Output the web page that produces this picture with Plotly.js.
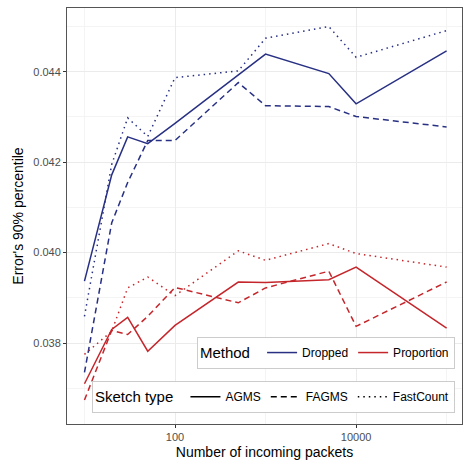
<!DOCTYPE html>
<html><head><script src="https://cdn.plot.ly/plotly-3.0.1.min.js"></script>
<style>body{margin:0}#c{width:472px;height:472px}</style></head>
<body><div id="c"></div><script>
const packets=[10,20,30,50,100,500,1000,5000,10000,100000];
const dropAGMS=[0.03937,0.04172,0.04256,0.04241,0.04286,0.04393,0.04439,0.04396,0.04329,0.04446];
const dropFAGMS=[0.03735,0.04066,0.04155,0.04248,0.04248,0.04376,0.04325,0.04323,0.04301,0.04278];
const dropFast=[0.03859,0.04195,0.04298,0.04257,0.04387,0.04402,0.04474,0.04500,0.04432,0.04491];
const propAGMS=[0.03710,0.03830,0.03857,0.03782,0.03839,0.03935,0.03934,0.03940,0.03968,0.03833];
const propFAGMS=[0.03674,0.03828,0.03819,0.03859,0.03923,0.03889,0.03922,0.03959,0.03837,0.03935];
const propFast=[0.03775,0.03826,0.03922,0.03946,0.03905,0.04004,0.03983,0.04020,0.03998,0.03968];
const blue='#283084', red='#c4262b';
const dashes={AGMS:'solid',FAGMS:'6px,4px',FastCount:'1.5px,4px'};
function tr(y,c,d){return {x:packets,y:y,mode:'lines',line:{color:c,dash:dashes[d],width:1.5},showlegend:false,hoverinfo:'skip'};}
const data=[tr(dropAGMS,blue,'AGMS'),tr(dropFAGMS,blue,'FAGMS'),tr(dropFast,blue,'FastCount'),
tr(propAGMS,red,'AGMS'),tr(propFAGMS,red,'FAGMS'),tr(propFast,red,'FastCount')];
function leg(name,c,d,l){return {x:[null],y:[null],mode:'lines',name:name,line:{color:c,dash:d,width:1.5},legend:l,showlegend:true};}
data.push(leg('Dropped',blue,'solid','legend'),leg('Proportion',red,'solid','legend'));
data.push(leg('AGMS','black','solid','legend2'),leg('FAGMS','black','6px,4px','legend2'),leg('FastCount','black','1.5px,4px','legend2'));
const grid='#ebebeb';
const layout={width:472,height:472,margin:{l:67,r:10,t:8,b:48},paper_bgcolor:'white',plot_bgcolor:'white',
font:{family:'Liberation Sans, Arial',color:'#4d4d4d'},
xaxis:{type:'log',range:[0.807,5.17],tickvals:[100,10000],ticktext:['100','10000'],gridcolor:grid,
 ticks:'outside',ticklen:3,tickcolor:'#333',tickfont:{size:11,color:'#4d4d4d'},showline:true,mirror:true,linecolor:'#555',zeroline:false,
 minor:{tickvals:[10,1000,100000],showgrid:true,gridcolor:'#f4f4f4',ticks:''},
 title:{text:'Number of incoming packets',font:{size:14,color:'black'},standoff:4}},
yaxis:{range:[0.03621,0.04541],tickvals:[0.038,0.040,0.042,0.044],ticktext:['0.038','0.040','0.042','0.044'],gridcolor:grid,
 ticks:'outside',ticklen:3,tickcolor:'#333',tickfont:{size:11,color:'#4d4d4d'},showline:true,mirror:true,linecolor:'#555',zeroline:false,
 minor:{tickvals:[0.037,0.039,0.041,0.043,0.045],showgrid:true,gridcolor:'#f4f4f4',ticks:''},
 title:{text:"Error's 90% percentile",font:{size:14,color:'black'},standoff:6}},
legend:{orientation:'h',x:0.982,xanchor:'right',y:0.209,yanchor:'top',bordercolor:'#cccccc',borderwidth:1,bgcolor:'white',
 title:{text:'Method ',side:'left',font:{size:15,color:'black'}},font:{size:12,color:'black'},itemwidth:30,tracegroupgap:0},
legend2:{orientation:'h',x:0.982,xanchor:'right',y:0.103,yanchor:'top',bordercolor:'#cccccc',borderwidth:1,bgcolor:'white',
 title:{text:'Sketch type ',side:'left',font:{size:15,color:'black'}},font:{size:12,color:'black'},itemwidth:30}
};
Plotly.newPlot('c',data,layout,{displayModeBar:false});
</script></body></html>
